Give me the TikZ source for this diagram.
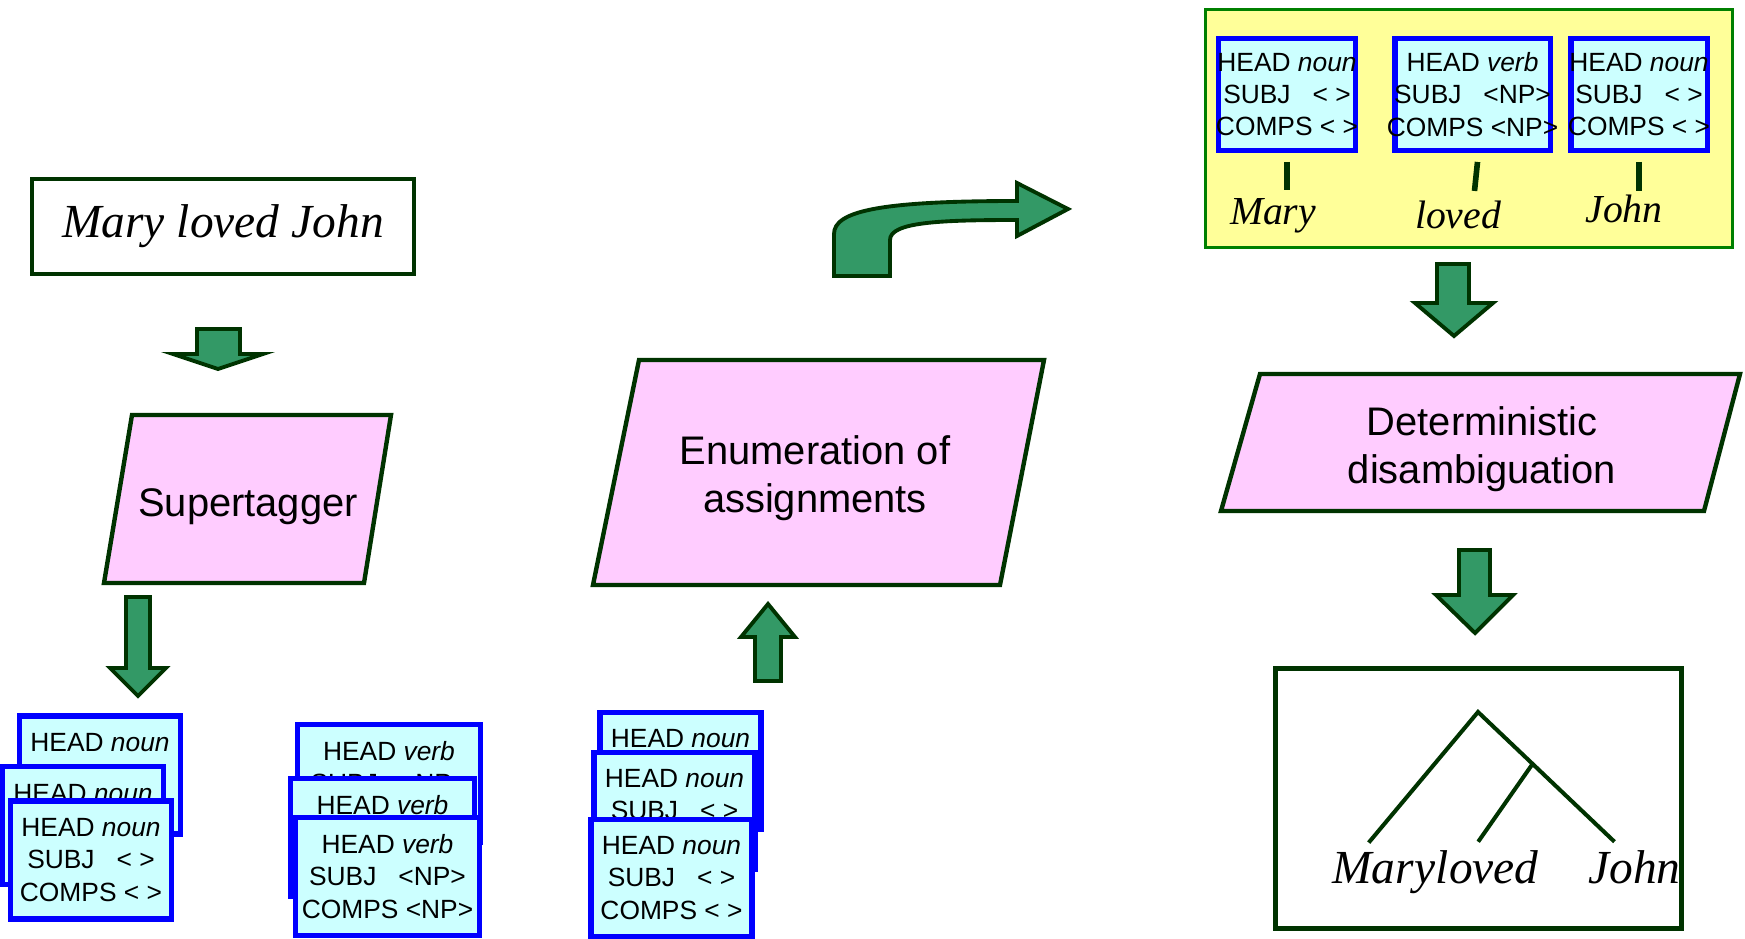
\documentclass[tikz,border=0pt]{standalone}
\usepackage{fontspec}
\setmainfont{Liberation Serif}
\setsansfont{Liberation Sans}
\usetikzlibrary{calc}

\definecolor{darkgreen}{RGB}{0,51,0}
\definecolor{arrowgreen}{RGB}{51,153,102}
\definecolor{pinkfill}{RGB}{255,204,255}
\definecolor{cyanfill}{RGB}{204,255,255}
\definecolor{avmblue}{RGB}{0,0,255}
\definecolor{lexyellow}{RGB}{255,255,153}
\definecolor{framegreen}{RGB}{0,128,0}

\newcommand{\nounavm}{HEAD \textit{noun}\\SUBJ~~~< >\\COMPS < >}
\newcommand{\verbavm}{HEAD \textit{verb}\\SUBJ~~~<NP>\\COMPS <NP>}

\begin{document}
\begin{tikzpicture}[
    x=0.02cm, y=-0.02cm,
    word/.style={font=\fontsize{27}{32}\selectfont\itshape, inner sep=0pt},
    lexword/.style={word, font=\fontsize{22.6}{27}\selectfont\itshape, anchor=base},
    sentence/.style={word, draw=darkgreen, line width=2.3pt, minimum width=7.64cm, minimum height=1.9cm},
    proc/.style={draw=darkgreen, fill=pinkfill, line width=2.5pt, line join=miter},
    proctext/.style={font=\sffamily\fontsize{22.7}{27.2}\selectfont, align=center, inner sep=0pt},
    blockarrow/.style={draw=darkgreen, fill=arrowgreen, line width=2.2pt, line join=miter},
    avm/.style={draw=avmblue, fill=cyanfill, line width=3.1pt, inner sep=0pt},
    avmnarrow/.style={avm, minimum width=3.22cm, minimum height=2.36cm},
    avmwide/.style={avm, minimum width=3.67cm, minimum height=2.35cm},
    avmlex/.style={avm, minimum width=2.73cm, minimum height=2.23cm},
    avmtext/.style={font=\sffamily\fontsize{15}{18.4}\selectfont, align=center, inner sep=0pt},
    lexframe/.style={draw=framegreen, fill=lexyellow, line width=1.7pt, minimum width=10.56cm, minimum height=4.78cm},
    treeframe/.style={draw=darkgreen, line width=2.8pt, minimum width=8.12cm, minimum height=5.2cm},
    branch/.style={draw=darkgreen, line width=2.3pt},
    tick/.style={draw=darkgreen, line width=3.2pt}
]
\useasboundingbox (0,0) rectangle (1745,939);

% left column: sentence -> supertagger -> lexical entries
\node[sentence] (input) at (223,226.5) {Mary loved John};
\draw[blockarrow] (197,329) -- (240,329) -- (240,354) -- (263,354) -- (218,369) -- (173,354) -- (197,354) -- cycle;

\draw[proc] (132,415) -- (391,415) -- (364,583) -- (104,583) -- cycle;
\node[proctext] (tagger) at (248,507) {Supertagger};
\draw[blockarrow] (126,597) -- (150,597) -- (150,668) -- (166,668) -- (138,696) -- (110,668) -- (126,668) -- cycle;

\foreach \n/\x/\y in {a/100/775, b/83/825.5, c/91/860}{
  \node[avmnarrow] (s1\n) at (\x,\y) {};
  \node[avmtext] (s1\n-txt) at (s1\n) {\nounavm};
}
\foreach \n/\x/\y in {a/389/783.5, b/382.5/837.5, c/387.5/876.5}{
  \node[avmwide] (s2\n) at (\x,\y) {};
  \node[avmtext] (s2\n-txt) at (s2\n) {\verbavm};
}
\foreach \n/\x/\y in {a/680.5/771, b/674.5/811, c/671.5/878}{
  \node[avmnarrow, minimum height=2.33cm] (s3\n) at (\x,\y) {};
  \node[avmtext] (s3\n-txt) at (s3\n) {\nounavm};
}

% middle: enumeration
\draw[blockarrow] (755,681) -- (781,681) -- (781,637) -- (795,637) -- (768,604) -- (741,637) -- (755,637) -- cycle;
\draw[proc] (639,360) -- (1044,360) -- (1000,585) -- (593,585) -- cycle;
\node[proctext] (enum) at (815,478) {Enumeration of\\assignments};

\draw[blockarrow] (834,276) -- (834,234) .. controls (834,211) and (880,201) .. (1017,201)
  -- (1017,183) -- (1068,209) -- (1017,236) -- (1017,220)
  .. controls (940,220) and (890,222) .. (890,240) -- (890,276) -- cycle;

% right column: chosen assignment -> disambiguation -> tree
\node[lexframe] (lexicon) at (1469,128.5) {};
\node[avmlex] (lexmary) at (1287,94.5) {};
\node[avmlex, minimum width=3.11cm] (lexloved) at (1472.5,94.5) {};
\node[avmlex] (lexjohn) at (1639,94.5) {};
\node[avmtext] (lexmary-txt) at (lexmary) {\nounavm};
\node[avmtext] (lexloved-txt) at (lexloved) {\verbavm};
\node[avmtext] (lexjohn-txt) at (lexjohn) {\nounavm};
\node[lexword] (wmary) at (1273,225) {Mary};
\node[lexword] (wloved) at (1458,229) {loved};
\node[lexword] (wjohn) at (1624,223) {John};
\draw[tick] ([yshift=-0.18cm]lexmary.south) -- ++(0,28);
\draw[tick] ([xshift=0.1cm, yshift=-0.18cm]lexloved.south) -- ++(-3,29);
\draw[tick] ([yshift=-0.18cm]lexjohn.south) -- ++(0,29);

\draw[blockarrow] (1437,264) -- (1469,264) -- (1469,303) -- (1493,303) -- (1454,336) -- (1415,303) -- (1437,303) -- cycle;

\draw[proc] (1260,374) -- (1740,374) -- (1704,511) -- (1221,511) -- cycle;
\node[proctext] (disamb) at (1482,449) {Deterministic\\disambiguation};

\draw[blockarrow] (1459,550) -- (1490,550) -- (1490,595) -- (1513,595) -- (1475,633) -- (1436,595) -- (1459,595) -- cycle;

\node[treeframe] (tree) at (1478.5,798.5) {};
\node[word, anchor=base west] (tmary) at (1332,883) {Mary};
\node[word, anchor=base west] (tloved) at (tmary.base east) {loved};
\node[word, anchor=base west] (tjohn) at (1588,883) {John};
\coordinate (root) at (1478,712);
\coordinate (lmary) at ($(tmary.north)+(-15,-9)$);
\coordinate (lloved) at ($(tloved.north)+(-9,-8)$);
\coordinate (ljohn) at ($(tjohn.north)+(-20,-8)$);
\draw[branch] (lmary) -- (root) -- (ljohn);
\draw[branch] ($(root)!0.4!(ljohn)$) -- (lloved);

\end{tikzpicture}
\end{document}
